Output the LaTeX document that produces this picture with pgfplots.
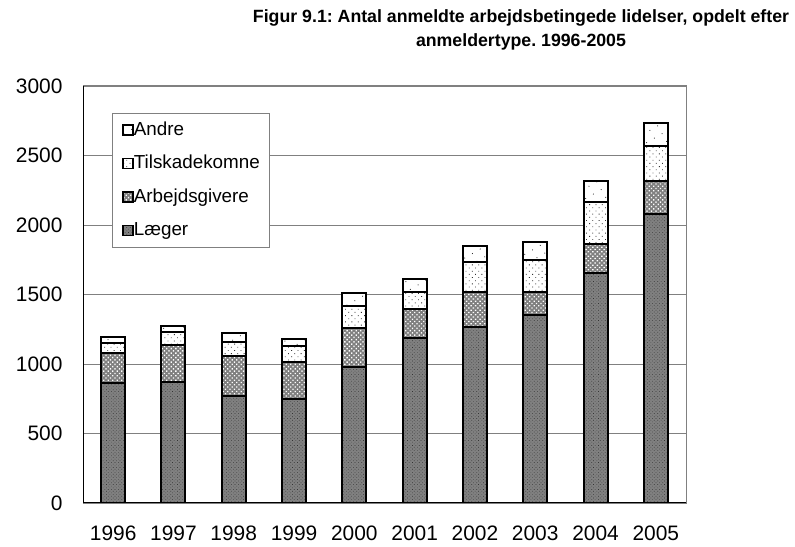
\documentclass[border=0pt]{standalone}
\usepackage{pgfplots}
\pgfplotsset{compat=1.18}
\usepackage{fontspec}
\setmainfont{Liberation Sans}
\usetikzlibrary{patterns.meta}
\begin{document}
\frenchspacing
\begin{tikzpicture}
\useasboundingbox (-83bp,-44bp) rectangle (712bp,503bp);
\begin{axis}[
  scale only axis,
  width=603bp, height=417bp,
  at={(0,0)}, anchor=south west,
  ybar stacked,
  bar width=24bp,
  xmin=-0.5, xmax=9.5,
  ymin=0, ymax=3000,
  ytick={0,500,...,3000},
  xtick={0,...,9},
  xticklabels={1996,1997,1998,1999,2000,2001,2002,2003,2004,2005},
  major tick length=0pt,
  ymajorgrids,
  grid style={draw=black!50, line width=0.8bp},
  axis line style={draw=black!50, line width=1bp},
  /pgf/number format/assume math mode=true,
  /pgf/number format/1000 sep={},
  tick label style={font=\fontsize{21}{25}\selectfont},
  yticklabel style={xshift=-17bp},
  xticklabel style={yshift=-19bp},
  every axis plot/.append style={draw=black, line width=2bp},
  legend style={at={(0.048,0.935)}, anchor=north west, draw=black!50, line width=0.8bp,
    font=\fontsize{18.9}{22}\selectfont, row sep=16bp, inner xsep=10bp, inner ysep=8bp,
    nodes={inner sep=0pt, text height=13.5bp, text depth=4bp},
    /tikz/every even column/.append style={column sep=2bp},
    legend cell align=left},
  reverse legend,
  legend image code/.code={\draw[#1, line width=1.5bp] (0bp,-4.5bp) rectangle (10bp,5.5bp);},
]
\addplot[fill=black!50, postaction={pattern={Dots[distance=2.4pt, radius=0.45pt, angle=45]}, pattern color=black!80}]
  coordinates {(0,861) (1,873) (2,772) (3,746) (4,976) (5,1185) (6,1268) (7,1350) (8,1657) (9,2079)};
\addplot[fill=black!50, postaction={pattern={Dots[distance=3.2pt, radius=0.95pt, angle=45]}, pattern color=white}]
  coordinates {(0,220) (1,264) (2,286) (3,268) (4,281) (5,211) (6,248) (7,168) (8,206) (9,235)};
\addplot[fill=white, postaction={pattern={Dots[distance=4.5pt, radius=0.6pt, angle=45]}, pattern color=black!80}]
  coordinates {(0,68) (1,96) (2,103) (3,118) (4,163) (5,124) (6,216) (7,230) (8,305) (9,254)};
\addplot[fill=white, postaction={pattern={Dots[distance=9pt, radius=0.6pt, angle=30]}, pattern color=black!80}]
  coordinates {(0,47) (1,40) (2,60) (3,48) (4,88) (5,92) (6,117) (7,130) (8,146) (9,166)};
\legend{Læger,Arbejdsgivere,Tilskadekomne,Andre}
\draw[black, line width=1.2bp] (rel axis cs:0,1) -- (rel axis cs:0,0) -- (rel axis cs:1,0);
\end{axis}
\node[align=center, font=\bfseries\fontsize{17.8}{24}\selectfont] at (438bp,473bp)
  {Figur 9.1: Antal anmeldte arbejdsbetingede lidelser, opdelt efter\\anmeldertype. 1996-2005};
\end{tikzpicture}
\end{document}
